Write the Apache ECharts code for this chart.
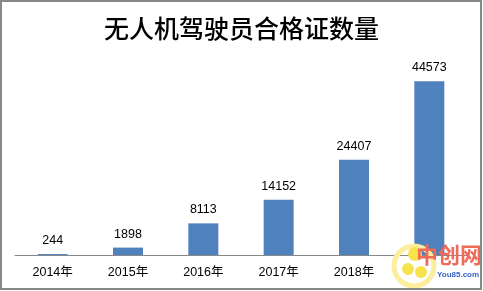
<!DOCTYPE html>
<html><head><meta charset="utf-8">
<script src="https://cdn.jsdelivr.net/npm/echarts@6/dist/echarts.min.js"></script>
<style>html,body{margin:0;padding:0;background:#fff}#c{width:483px;height:291px}</style>
</head><body><div id="c"></div>
<script>
const titleText = '无人机驾驶员合格证数量';
const categories = ['2014年','2015年','2016年','2017年','2018年','2019年'];
const values = [244, 1898, 8113, 14152, 24407, 44573];

const chart = echarts.init(document.getElementById('c'));
chart.setOption({
  animation: false,
  backgroundColor: '#fff',
  title: {
    text: titleText, left: 'center', top: 11,
    textStyle: { fontFamily: 'Noto Sans CJK SC', fontSize: 25, fontWeight: 500, color: '#000' }
  },
  grid: { left: 15, right: 16, top: 60, bottom: 36 },
  xAxis: {
    type: 'category', data: categories,
    axisLine: { lineStyle: { color: '#888', width: 1 } },
    axisTick: { show: false },
    axisLabel: { color: '#000', fontSize: 12.5, fontFamily: 'Liberation Sans, Noto Sans CJK SC', margin: 11 }
  },
  yAxis: { type: 'value', min: 0, max: 50000, show: false, splitLine: { show: false } },
  series: [{
    type: 'bar', data: values, barWidth: 30,
    itemStyle: { color: '#4f81bd' },
    label: { show: true, position: 'top', distance: 7, color: '#000', fontSize: 12.5, fontFamily: 'Liberation Sans' }
  }],
  graphic: [
    { type: 'rect', shape: { x: 1, y: 1, width: 480, height: 288 }, style: { fill: 'none', stroke: '#888', lineWidth: 2 }, z: 100 },
    { type: 'rect', shape: { x: 396, y: 257, width: 84, height: 31 }, style: { fill: '#fff' }, z: 90 },
    { type: 'circle', shape: { cx: 414, cy: 266, r: 20 }, style: { fill: 'none', stroke: '#fcee9c', lineWidth: 5 }, z: 91 },
    { type: 'circle', shape: { cx: 415, cy: 254, r: 7 }, style: { fill: '#f7e34c' }, z: 92 },
    { type: 'circle', shape: { cx: 408, cy: 269, r: 6 }, style: { fill: '#f7e34c' }, z: 92 },
    { type: 'circle', shape: { cx: 421, cy: 272, r: 6 }, style: { fill: '#f7e34c' }, z: 92 },
    { type: 'text', left: 416, top: 244, style: { text: '中创网', fill: '#f06a5a', font: 'bold 22px "Noto Sans CJK SC"' }, z: 93 },
    { type: 'text', left: 437, top: 271, style: { text: 'You85.com', fill: '#3a64c8', font: 'bold 8px "Liberation Sans"' }, z: 93 }
  ]
});
</script></body></html>
